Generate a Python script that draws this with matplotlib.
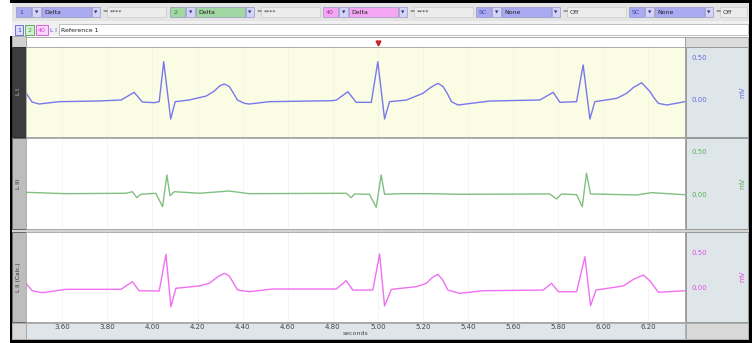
import matplotlib.pyplot as plt
from matplotlib.patches import Rectangle

# Channels shown, top to bottom
channels = ['L I', 'L III', 'L II (Calc.)']
x_ticks = [3.6, 3.8, 4.0, 4.2, 4.4, 4.6, 4.8, 5.0, 5.2, 5.4, 5.6, 5.8, 6.0, 6.2]
x_range = (3.439, 6.363)
y_ranges = [(-0.452, 0.62), (-0.393, 0.655), (-0.491, 0.794)]
y_ticks = [0.0, 0.5]

# Lead I (seconds, mV)
t_lead1 = [3.439, 3.466, 3.497, 3.586, 3.763, 3.861, 3.919, 3.955, 4.008, 4.030,
           4.050, 4.081, 4.101, 4.163, 4.239, 4.274, 4.300, 4.319, 4.341, 4.359,
           4.377, 4.408, 4.430, 4.519, 4.799, 4.817, 4.867, 4.904, 4.971, 5.000,
           5.030, 5.052, 5.127, 5.200, 5.235, 5.267, 5.289, 5.307, 5.327, 5.356,
           5.497, 5.719, 5.778, 5.808, 5.882, 5.911, 5.941, 5.963, 6.060, 6.104,
           6.135, 6.171, 6.208, 6.226, 6.245, 6.282, 6.363]
mv_lead1 = [0.072, -0.036, -0.060, -0.032, -0.024, -0.012, 0.080, -0.036, -0.044, -0.032,
            0.447, -0.240, -0.032, -0.012, 0.036, 0.095, 0.160, 0.180, 0.150, 0.072,
            -0.012, -0.052, -0.060, -0.032, -0.020, -0.012, 0.088, -0.040, -0.040, 0.447,
            -0.240, -0.032, -0.012, 0.068, 0.140, 0.188, 0.150, 0.072, -0.032, -0.072,
            -0.024, -0.012, 0.080, -0.040, -0.032, 0.408, -0.240, -0.032, 0.008, 0.068,
            0.140, 0.195, 0.088, 0.012, -0.052, -0.072, -0.032]

# Lead III
t_lead3 = [3.435, 3.615, 3.882, 3.911, 3.931, 3.949, 4.015, 4.045, 4.064, 4.078,
           4.097, 4.208, 4.341, 4.430, 4.860, 4.882, 4.897, 4.963, 4.993, 5.015,
           5.030, 5.097, 5.245, 5.363, 5.763, 5.793, 5.815, 5.882, 5.907, 5.926,
           5.944, 6.149, 6.215, 6.363]
mv_lead3 = [0.031, 0.015, 0.020, 0.038, -0.031, 0.008, 0.020, -0.135, 0.231, -0.008,
            0.038, 0.020, 0.046, 0.015, 0.020, -0.031, 0.012, 0.008, -0.142, 0.231,
            0.008, 0.015, 0.015, 0.008, 0.012, -0.046, 0.012, 0.003, -0.135, 0.251,
            0.012, 0.000, 0.027, 0.003]

# Lead II (calculated)
t_lead2 = [3.435, 3.467, 3.511, 3.615, 3.860, 3.911, 3.941, 4.030, 4.060, 4.082,
           4.104, 4.208, 4.252, 4.290, 4.319, 4.341, 4.356, 4.378, 4.430, 4.534,
           4.815, 4.860, 4.889, 4.978, 5.008, 5.030, 5.060, 5.171, 5.215, 5.242,
           5.267, 5.288, 5.311, 5.363, 5.467, 5.734, 5.771, 5.801, 5.882, 5.919,
           5.944, 5.968, 6.089, 6.135, 6.178, 6.208, 6.245, 6.363]
mv_lead2 = [0.071, -0.049, -0.077, -0.029, -0.029, 0.080, -0.049, -0.053, 0.471, -0.277,
            -0.014, 0.019, 0.057, 0.150, 0.200, 0.161, 0.080, -0.039, -0.063, -0.024,
            -0.024, 0.094, -0.039, -0.039, 0.476, -0.267, -0.029, 0.009, 0.057, 0.140,
            0.186, 0.104, -0.039, -0.086, -0.049, -0.039, 0.057, -0.063, -0.063, 0.437,
            -0.263, -0.039, 0.019, 0.115, 0.176, 0.090, -0.071, -0.049]

traces = [(t_lead1, mv_lead1), (t_lead3, mv_lead3), (t_lead2, mv_lead2)]
line_colors = ['#7878ee', '#80c080', '#f070f0']
tick_colors = ['#6a6ae0', '#5cb05c', '#e050e0']
panel_faces = ['#fbfce4', 'white', 'white']
panel_px = [(47.3, 136.7), (138.3, 229.0), (231.7, 321.7)]

W, H = 752, 343
fig = plt.figure(figsize=(W / 100, H / 100), dpi=100)
fig.patch.set_facecolor('white')


def px_axes(x0, y0, x1, y1):
    return fig.add_axes([x0 / W, 1 - y1 / H, (x1 - x0) / W, (y1 - y0) / H])


# background layer for the window chrome
ui = px_axes(0, 0, W, H)
ui.set_xlim(0, W)
ui.set_ylim(H, 0)
ui.axis('off')


def box(x0, y0, x1, y1, fc, ec='none', lw=0.6):
    ui.add_patch(Rectangle((x0, y0), x1 - x0, y1 - y0, facecolor=fc,
                           edgecolor=ec, linewidth=lw))


def label(x, y, s, color='#333333', size=4.5, **kw):
    ui.text(x, y, s, color=color, fontsize=size, va='center', **kw)


# top toolbar
box(12, 3, 749, 21, '#e4e4e4')
box(12, 21, 749, 36, '#f0f0f0')
groups = [(16, '1', 'Delta', '****', '#aaaaf2', '#3c3ca8'),
          (170, '2', 'Delta', '****', '#a2d6a2', '#2f7a2f'),
          (323, '40', 'Delta', '****', '#f4a6f4', '#a02ca0'),
          (476, 'SC', 'None', 'Off', '#aaaaf2', '#3c3ca8'),
          (629, 'SC', 'None', 'Off', '#aaaaf2', '#3c3ca8')]
for gx, gid, gname, gval, fc, tc in groups:
    box(gx, 7, gx + 15, 17, fc, '#8888bb', 0.4)
    label(gx + 3, 12, gid, tc)
    box(gx + 15.5, 7, gx + 25, 17, '#d4d4f8', '#8888bb', 0.4)
    label(gx + 20.2, 12, '\u25bc', '#30308a', 3.2, ha='center')
    box(gx + 26, 7, gx + 75, 17, fc, '#8888bb', 0.4)
    label(gx + 28, 12, gname, '#222222')
    box(gx + 75.5, 7, gx + 84, 17, '#d4d4f8', '#8888bb', 0.4)
    label(gx + 79.7, 12, '\u25bc', '#30308a', 3.2, ha='center')
    label(gx + 86, 12, '=', '#333333')
    box(gx + 91, 7, min(gx + 150, 747), 17, '#ececec', '#c4c4c4', 0.4)
    label(gx + 94, 12, gval, '#333333')

box(15, 25, 23, 35, '#dcdcff', '#6060d0', 0.6)
label(19, 30, '1', '#4040c0', ha='center')
box(25, 25, 34, 35, '#d4f0d4', '#50a050', 0.6)
label(29.5, 30, '2', '#40a040', ha='center')
box(36, 25, 48, 35, '#ffd4ff', '#d050d0', 0.6)
label(42, 30, '40', '#d040d0', ha='center')
label(49.5, 30, 'L I', '#5050d0', 4.2)
box(58.5, 24, 748, 35, 'white', '#a8a8a8', 0.5)
label(61, 30, 'Reference 1', '#222222')

# marker strip
box(12, 36, 26, 47, '#d0d0d0', '#909090', 0.5)
box(26, 37, 685, 47, 'white', '#9a9a9a', 0.6)
box(685, 37, 748, 47, '#dcdcdc', '#9a9a9a', 0.6)
ui.plot([378], [42.5], marker='v', color='#c8202a', markersize=3.5)

# panel surrounds
box(12, 47, 749, 339, '#d4d4d4')
for i, (top, bot) in enumerate(panel_px):
    if i == 0:
        box(12, top, 25.5, bot, '#3c3c3c', '#202020', 0.6)
        tcol = '#d0d0d0'
    else:
        box(12, top, 25.5, bot, '#bdbdbd', '#555555', 0.6)
        tcol = '#333333'
    label(18.8, (top + bot) / 2, channels[i], tcol, 4.2, ha='center', rotation=90)
    box(686, top, 747.5, bot, '#dfe6ea', '#8c8c8c', 0.6)

# time axis strip
box(12, 322.5, 26, 339, '#d8d8d8', '#999999', 0.5)
box(26, 322.5, 685, 339, '#dfe6ea', '#9a9a9a', 0.5)
box(686, 322.5, 748, 339, '#d8d8d8', '#999999', 0.5)

# window border
box(10, 0, 752, 3, 'black')
box(749, 0, 752, 343, 'black')
box(10, 339.5, 752, 343, 'black')
box(10, 36, 12, 343, 'black')

# the three recorded channels
for i, (top, bot) in enumerate(panel_px):
    ax = px_axes(26, top, 685, bot)
    ax.set_facecolor(panel_faces[i])
    t, v = traces[i]
    ax.plot(t, v, color=line_colors[i], linewidth=1.0, solid_joinstyle='round')
    ax.set_xlim(*x_range)
    ax.set_ylim(*y_ranges[i])
    ax.set_xticks(x_ticks)
    ax.grid(True, axis='x', color='#f0f0f0', linewidth=0.5)
    ax.set_axisbelow(True)
    ax.yaxis.tick_right()
    ax.set_yticks(y_ticks)
    ax.set_yticklabels(['0.00', '0.50'])
    ax.tick_params(axis='y', length=0, pad=5, labelsize=5, labelcolor=tick_colors[i])
    ax.yaxis.set_label_position('right')
    ax.set_ylabel('mV', color=tick_colors[i], fontsize=5, rotation=90)
    ax.yaxis.set_label_coords(1.083, 0.5)
    for s in ax.spines.values():
        s.set_color('#a0a0a0')
        s.set_linewidth(0.6)
    if i < 2:
        ax.tick_params(axis='x', length=0, labelbottom=False)
    else:
        ax.set_xticklabels(['%.2f' % x for x in x_ticks])
        ax.tick_params(axis='x', length=0, pad=2, labelsize=5, labelcolor='#444444')
        ax.set_xlabel('seconds', fontsize=4.5, color='#444444', labelpad=0.5)

fig.savefig('out.png', dpi=100)
